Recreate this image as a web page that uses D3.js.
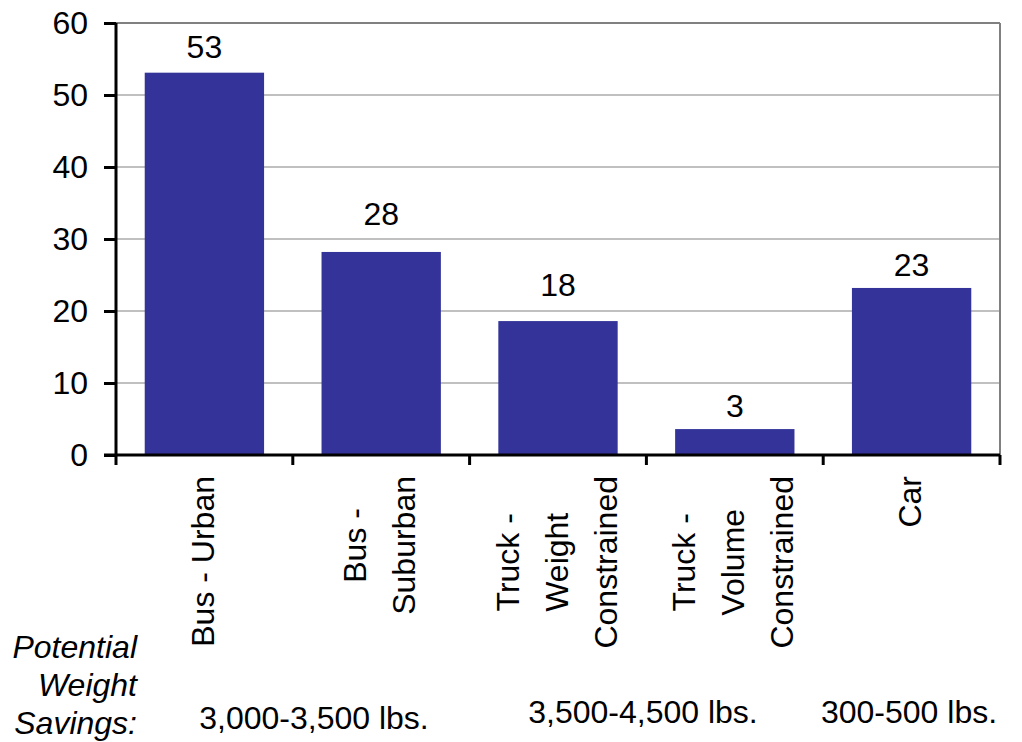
<!DOCTYPE html>
<html>
<head>
<meta charset="utf-8">
<script src="https://cdn.jsdelivr.net/npm/d3@7"></script>
<style>
  html, body { margin: 0; padding: 0; background: #fff; }
  svg { display: block; }
  text { font-family: "Liberation Sans", Arial, sans-serif; fill: #000; }
</style>
</head>
<body>
<svg id="chart" width="1022" height="742"></svg>
<script>
// ---- data ----
const categories = ["Bus - Urban", "Bus - Suburban", "Truck - Weight Constrained", "Truck - Volume Constrained", "Car"];
const categoryLines = [["Bus - Urban"], ["Bus -", "Suburban"], ["Truck -", "Weight", "Constrained"], ["Truck -", "Volume", "Constrained"], ["Car"]];
const values = [53.1, 28.2, 18.6, 3.6, 23.2];
const valueLabels = ["53", "28", "18", "3", "23"];
const yTicks = [0, 10, 20, 30, 40, 50, 60];
const savingsLabels = ["3,000-3,500 lbs.", "3,500-4,500 lbs.", "300-500 lbs."];
const savingsTitle = ["Potential", "Weight", "Savings:"];

// ---- layout ----
const svg = d3.select("#chart");
const pLeft = 116, pRight = 1000, pTop = 23, pBottom = 455;
const FS = 32;
const labelGap = [15, 27, 25, 12, 12];

const x = d3.scaleBand().domain(categories).range([pLeft, pRight]).paddingInner(0.325).paddingOuter(0.1625);
const y = d3.scaleLinear().domain([0, 60]).range([pBottom, pTop]);

// gridlines
svg.append("g").selectAll("line").data(yTicks.filter(d => d > 0 && d < 60)).join("line")
  .attr("x1", pLeft).attr("x2", pRight)
  .attr("y1", d => y(d)).attr("y2", d => y(d))
  .attr("stroke", "#c0c0c0").attr("stroke-width", 2);

// plot border top and right
svg.append("line").attr("x1", pLeft).attr("x2", pRight).attr("y1", y(60)).attr("y2", y(60))
  .attr("stroke", "#808080").attr("stroke-width", 2);
svg.append("line").attr("x1", pRight).attr("x2", pRight).attr("y1", y(60)).attr("y2", y(0))
  .attr("stroke", "#808080").attr("stroke-width", 2);

// bars
svg.append("g").selectAll("rect").data(values).join("rect")
  .attr("x", (d, i) => x(categories[i]))
  .attr("width", x.bandwidth())
  .attr("y", d => y(d))
  .attr("height", d => y(0) - y(d))
  .attr("fill", "#333399");

// value labels
svg.append("g").selectAll("text").data(values).join("text")
  .attr("x", (d, i) => x(categories[i]) + x.bandwidth() / 2)
  .attr("y", (d, i) => y(d) - labelGap[i])
  .attr("text-anchor", "middle")
  .attr("font-size", FS)
  .text((d, i) => valueLabels[i]);

// y axis
const yAxis = d3.axisLeft(y).tickValues(yTicks).tickSize(12).tickPadding(16).tickFormat(d3.format("d"));
const gy = svg.append("g").attr("transform", `translate(${pLeft},0)`).call(yAxis);
gy.select(".domain").attr("stroke", "#000").attr("stroke-width", 3).attr("d", `M0,${pTop}V${pBottom + 1}`);
gy.selectAll(".tick line").attr("stroke", "#000").attr("stroke-width", 3);
gy.selectAll(".tick text").attr("font-size", FS).attr("font-family", "Liberation Sans, Arial, sans-serif").attr("fill", "#000");

// x axis baseline and boundary ticks
const bounds = categories.map(c => x(c) - x.step() * x.paddingInner() / 2).concat([pRight]);
bounds[0] = pLeft;
svg.append("line").attr("x1", pLeft - 12).attr("x2", pRight).attr("y1", pBottom).attr("y2", pBottom)
  .attr("stroke", "#000").attr("stroke-width", 3);
svg.append("g").selectAll("line").data(bounds).join("line")
  .attr("x1", d => d).attr("x2", d => d).attr("y1", pBottom).attr("y2", pBottom + 10)
  .attr("stroke", "#000").attr("stroke-width", 3);

// category labels (rotated)
const LH = 49;
categories.forEach((c, i) => {
  const lines = categoryLines[i];
  const cx = x(c) + x.bandwidth() / 2;
  const g = svg.append("g").attr("transform", `translate(${cx},476) rotate(-90)`);
  const texts = g.selectAll("text").data(lines).join("text")
    .attr("font-size", FS)
    .attr("text-anchor", "middle")
    .text(d => d);
  let maxL = 0;
  texts.each(function () { maxL = Math.max(maxL, this.getComputedTextLength()); });
  const n = lines.length;
  texts.attr("x", -maxL / 2)
    .attr("y", (d, j) => (j - (n - 1) / 2) * LH + 9.5);
});

// savings title (italic, right aligned)
svg.append("g").selectAll("text").data(savingsTitle).join("text")
  .attr("x", 137).attr("y", (d, i) => 658 + i * 38)
  .attr("text-anchor", "end")
  .attr("font-style", "italic")
  .attr("font-size", FS)
  .text(d => d);

// savings values
const savingsX = [314, 643, 909];
const savingsY = [729, 723, 723];
svg.append("g").selectAll("text").data(savingsLabels).join("text")
  .attr("x", (d, i) => savingsX[i]).attr("y", (d, i) => savingsY[i])
  .attr("text-anchor", "middle")
  .attr("font-size", FS)
  .text(d => d);
</script>
</body>
</html>
